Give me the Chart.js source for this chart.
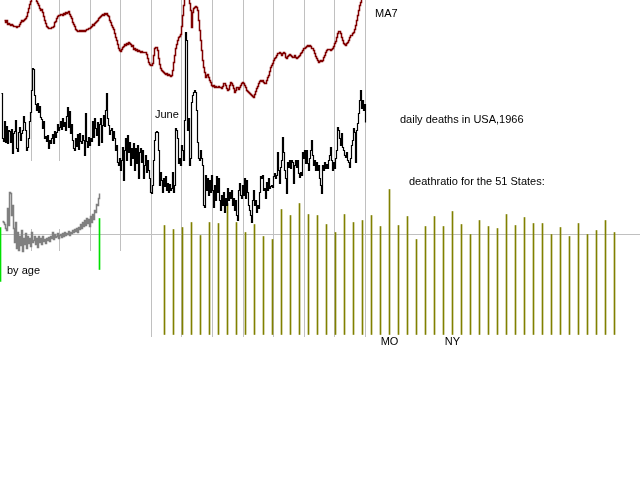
<!DOCTYPE html>
<html>
<head>
<meta charset="utf-8">
<script src="https://cdn.jsdelivr.net/npm/chart.js"></script>
<style>
  html, body { margin: 0; padding: 0; background: #fff; }
  canvas { display: block; }
</style>
</head>
<body>
<canvas id="c" width="640" height="480"></canvas>
<script>
// daily deaths, day 1..365 of 1966
const dailyDeaths = [
  5820,5370,5340,5540,5330,5490,5320,5450,5440,5330,
  5460,5220,5420,5440,5550,5270,5240,5430,5480,5350,
  5420,5450,5590,5530,5450,5250,5280,5370,5540,5630,
  5850,6070,6060,5800,5710,5650,5720,5630,5690,5580,
  5560,5470,5540,5370,5390,5340,5400,5270,5350,5320,
  5370,5410,5320,5440,5380,5430,5510,5450,5480,5540,
  5460,5570,5490,5530,5450,5590,5680,5480,5640,5420,
  5510,5350,5270,5250,5370,5290,5410,5260,5420,5340,
  5320,5400,5350,5200,5620,5340,5280,5380,5300,5370,
  5340,5540,5380,5570,5470,5400,5530,5300,5510,5570,
  5330,5500,5600,5490,5650,5820,5570,5500,5410,5450,
  5470,5350,5440,5370,5250,5300,5130,5100,5170,5050,
  5150,5280,4950,5250,5370,5150,5400,5230,5330,5100,
  5270,5170,5320,5050,5270,5120,5300,4970,5230,5270,
  5130,5250,4970,5100,5200,5030,5150,5050,4970,4830,
  4820,4900,5150,5350,5430,5440,5430,5250,4900,5030,
  4950,4830,4970,4890,4990,4850,4920,4830,4910,4850,
  4870,5030,4830,4900,5470,5450,5370,5120,5170,5100,
  5300,5250,5150,5550,6430,6350,5450,5570,5100,5170,
  5730,5800,5830,5850,5830,5650,5330,5170,5150,5250,
  5170,5100,4700,4680,5000,4850,4970,4800,4950,4830,
  5000,4850,4680,4900,4750,4990,4830,4970,4750,4650,
  4800,4700,4830,4630,4770,4700,4870,4750,4830,4770,
  4850,4700,4770,4650,4750,4600,4550,4850,4920,4800,
  4770,4900,4800,4970,4770,4950,4830,4700,4650,4600,
  4530,4750,4850,4700,4750,4630,4700,4670,4830,4990,
  4970,5000,4850,4870,4770,4930,4850,4970,4870,4890,
  4900,4880,4990,5020,4970,5000,5230,5050,4920,5080,
  5150,5380,5230,5050,4970,4820,5130,5080,5150,5070,
  5150,5130,4920,5100,5150,5080,5150,5020,4980,5030,
  5000,5230,5170,5250,5120,5250,5120,5050,5170,5250,
  5350,5200,5100,5150,5050,5130,5050,5100,4970,4900,
  4820,5100,5050,5130,5070,5110,5070,5150,5200,5280,
  5150,5050,5130,5070,5170,5250,5480,5450,5370,5300,
  5420,5280,5250,5200,5180,5230,5150,5130,5080,5170,
  5300,5350,5470,5430,5130,5450,5520,5620,5750,5850,
  5670,5750,5650,5710,5530
];

// 7-day moving average, day 4..362
const ma7FirstDay = 4;
const ma7 = [
  5460,5440,5460,5420,5430,5420,5410,5420,5410,5400,
  5400,5400,5390,5400,5400,5420,5440,5460,5450,5460,
  5470,5480,5500,5540,5580,5620,5650,5690,5710,5720,
  5700,5680,5650,5630,5610,5580,5560,5570,5540,5500,
  5460,5430,5400,5390,5380,5380,5380,5390,5390,5400,
  5440,5450,5480,5500,5510,5510,5520,5520,5510,5530,
  5520,5540,5530,5540,5550,5520,5500,5480,5440,5420,
  5400,5370,5360,5350,5350,5360,5350,5360,5350,5360,
  5350,5360,5370,5370,5380,5380,5390,5400,5420,5410,
  5430,5440,5450,5460,5480,5490,5500,5510,5520,5510,
  5530,5520,5530,5510,5500,5460,5440,5410,5390,5370,
  5330,5290,5260,5220,5180,5160,5150,5170,5190,5200,
  5220,5210,5230,5220,5240,5230,5220,5200,5210,5170,
  5180,5160,5170,5150,5160,5150,5140,5150,5140,5140,
  5140,5140,5120,5080,5040,5020,5010,5010,5030,5110,
  5180,5190,5190,5160,5080,5020,4980,4960,4950,4940,
  4930,4920,4930,4910,4920,4910,4900,4910,4960,5040,
  5110,5180,5220,5260,5290,5300,5320,5400,5510,5610,
  5710,5810,5840,5780,5710,5630,5560,5390,5540,5580,
  5590,5600,5590,5560,5460,5360,5260,5160,5060,4990,
  4940,4890,4910,4920,4890,4860,4840,4810,4800,4810,
  4790,4800,4790,4790,4800,4790,4790,4780,4800,4830,
  4830,4810,4780,4760,4770,4810,4840,4830,4810,4780,
  4740,4760,4790,4790,4770,4790,4810,4830,4840,4830,
  4810,4790,4760,4750,4740,4730,4720,4710,4700,4690,
  4720,4750,4780,4800,4830,4850,4860,4850,4860,4840,
  4830,4830,4860,4890,4910,4950,4990,5010,5030,5060,
  5080,5090,5110,5130,5130,5140,5130,5110,5130,5140,
  5130,5090,5080,5100,5110,5120,5110,5100,5090,5090,
  5110,5090,5080,5090,5100,5110,5130,5140,5160,5180,
  5180,5190,5200,5210,5200,5210,5200,5180,5180,5160,
  5130,5100,5080,5060,5040,5050,5060,5050,5060,5090,
  5110,5140,5160,5170,5170,5170,5160,5170,5180,5200,
  5230,5250,5290,5330,5350,5350,5330,5290,5260,5230,
  5220,5210,5230,5240,5260,5290,5310,5310,5330,5340,
  5370,5410,5460,5510,5560,5610,5640,5690,5730
];

// death ratio by age, age 2..99
const ageFirst = 2;
const ratioByAge = [
  1.13,1.12,1.10,1.06,1.04,1.26,1.09,1.42,1.41,1.19,
  1.29,1.06,0.92,1.12,0.86,1.02,0.84,0.98,0.89,1.04,
  0.83,0.96,0.90,1.01,0.86,0.98,0.91,0.96,0.88,1.02,
  0.92,0.94,0.98,0.90,0.96,0.87,0.98,0.92,0.96,0.90,
  0.98,0.93,0.95,0.91,0.96,0.94,0.97,0.93,0.98,0.96,
  1.02,0.95,1.00,0.97,0.98,1.01,0.96,0.99,1.00,0.97,
  1.01,0.98,1.02,0.99,1.01,1.00,1.03,0.99,1.02,1.01,
  1.04,1.02,1.05,1.03,1.06,1.02,1.07,1.05,1.10,1.06,
  1.12,1.08,1.14,1.09,1.16,1.11,1.15,1.08,1.18,1.12,
  1.20,1.15,1.24,1.22,1.30,1.29,1.36,1.41
];
const ageMarkAge = [0, 99];
const ageMarkLow = [0.53, 0.65];
const ageMarkHigh = [1.07, 1.16];

// death ratio for the 51 states
const states = ['AL','AK','AZ','AR','CA','CO','CT','DE','DC','FL','GA','HI','ID','IL','IN','IA','KS',
  'KY','LA','ME','MD','MA','MI','MN','MS','MO','MT','NE','NV','NH','NJ','NM','NY','NC','ND','OH',
  'OK','OR','PA','RI','SC','SD','TN','TX','UT','VT','VA','WA','WV','WI','WY'];
const stateRatio = [
  1.09,1.05,1.07,1.12,0.99,1.12,1.11,1.31,1.12,1.02,
  1.10,0.98,0.95,1.25,1.19,1.31,1.20,1.19,1.10,1.02,
  1.20,1.12,1.14,1.19,1.08,1.45,1.09,1.18,0.95,1.08,
  1.18,1.08,1.23,1.10,1.00,1.14,1.08,1.06,1.20,1.09,
  1.17,1.11,1.11,1.00,1.07,0.98,1.11,1.00,1.04,1.14,
  1.02
];
const labeledStates = ['MO', 'NY'];

const monthEnds = [31, 59, 90, 120, 151, 181, 212, 243, 273, 304, 334, 365];

const FONT = '11px "Liberation Sans", Arial, sans-serif';

const decorations = {
  id: 'decorations',
  beforeDatasetsDraw(chart) {
    const ctx = chart.ctx;
    const xd = chart.scales.xDay;
    const yr = chart.scales.yRatio;
    const area = chart.chartArea;
    ctx.save();
    ctx.strokeStyle = '#c0c0c0';
    ctx.lineWidth = 1;
    ctx.beginPath();
    monthEnds.forEach(d => {
      const x = Math.floor(xd.getPixelForValue(d)) + 0.5;
      let segs;
      if (d < 90) segs = [[0, 161], [229, 251]];
      else if (d < 151) segs = [[0, 251]];
      else segs = [[0, 337]];
      segs.forEach(s => { ctx.moveTo(x, s[0]); ctx.lineTo(x, s[1]); });
    });
    const y1 = Math.floor(yr.getPixelForValue(1)) + 0.5;
    ctx.moveTo(area.left, y1);
    ctx.lineTo(area.right, y1);
    ctx.stroke();
    ctx.restore();
  },
  afterDatasetsDraw(chart) {
    const ctx = chart.ctx;
    const xs = chart.scales.xState;
    ctx.save();
    ctx.fillStyle = '#000';
    ctx.font = FONT;
    ctx.textBaseline = 'alphabetic';
    ctx.textAlign = 'left';
    ctx.fillText('MA7', 375, 17);
    ctx.fillText('June', 155, 118);
    ctx.fillText('daily deaths in USA,1966', 400, 123);
    ctx.fillText('deathratio for the 51 States:', 409, 185);
    ctx.fillText('by age', 7, 274);
    ctx.textAlign = 'center';
    labeledStates.forEach(s => {
      const i = states.indexOf(s);
      ctx.fillText(s, xs.getPixelForValue(i), 345);
    });
    ctx.restore();
  }
};

new Chart(document.getElementById('c'), {
  type: 'line',
  data: {
    datasets: [{
      label: 'MA7',
      data: ma7.map((v, i) => ({ x: ma7FirstDay + i, y: v })),
      xAxisID: 'xDay',
      yAxisID: 'yMA',
      borderColor: '#800000',
      borderWidth: 1.5,
      pointRadius: 0,
      stepped: true
    }, {
      label: 'daily deaths',
      data: dailyDeaths.map((v, i) => ({ x: i + 1, y: v })),
      xAxisID: 'xDay',
      yAxisID: 'yDaily',
      borderColor: '#000000',
      borderWidth: 1.2,
      pointRadius: 0,
      stepped: true
    }, {
      label: 'by age',
      data: ratioByAge.map((v, i) => ({ x: ageFirst + i, y: v })),
      xAxisID: 'xDay',
      yAxisID: 'yRatio',
      borderColor: '#808080',
      borderWidth: 1.5,
      pointRadius: 0,
      stepped: true
    }, {
      type: 'bar',
      label: 'age marks',
      data: ageMarkAge.map((a, i) => ({ x: a, y: [ageMarkLow[i], ageMarkHigh[i]] })),
      xAxisID: 'xDay',
      yAxisID: 'yRatio',
      backgroundColor: '#00e000',
      barThickness: 1,
      grouped: false
    }, {
      type: 'bar',
      label: 'states',
      data: stateRatio.map((v, i) => ({ x: i, y: v })),
      xAxisID: 'xState',
      yAxisID: 'yRatio',
      backgroundColor: '#808000',
      barThickness: 1,
      grouped: false
    }]
  },
  options: {
    responsive: false,
    animation: false,
    events: [],
    layout: { padding: 0 },
    plugins: { legend: { display: false }, tooltip: { enabled: false } },
    scales: {
      xDay: { type: 'linear', axis: 'x', display: false, offset: false, min: -0.5, max: 639.5 },
      xState: { type: 'linear', axis: 'x', display: false, offset: false, min: -164.5 / 9, max: (640 - 164.5) / 9 },
      yDaily: { type: 'linear', axis: 'y', display: false, min: 1955, max: 6755 },
      yMA: { type: 'linear', axis: 'y', display: false, min: 865, max: 5665 },
      yRatio: { type: 'linear', axis: 'y', display: false, min: -1.455, max: 3.345 }
    }
  },
  plugins: [decorations]
});
</script>
</body>
</html>
